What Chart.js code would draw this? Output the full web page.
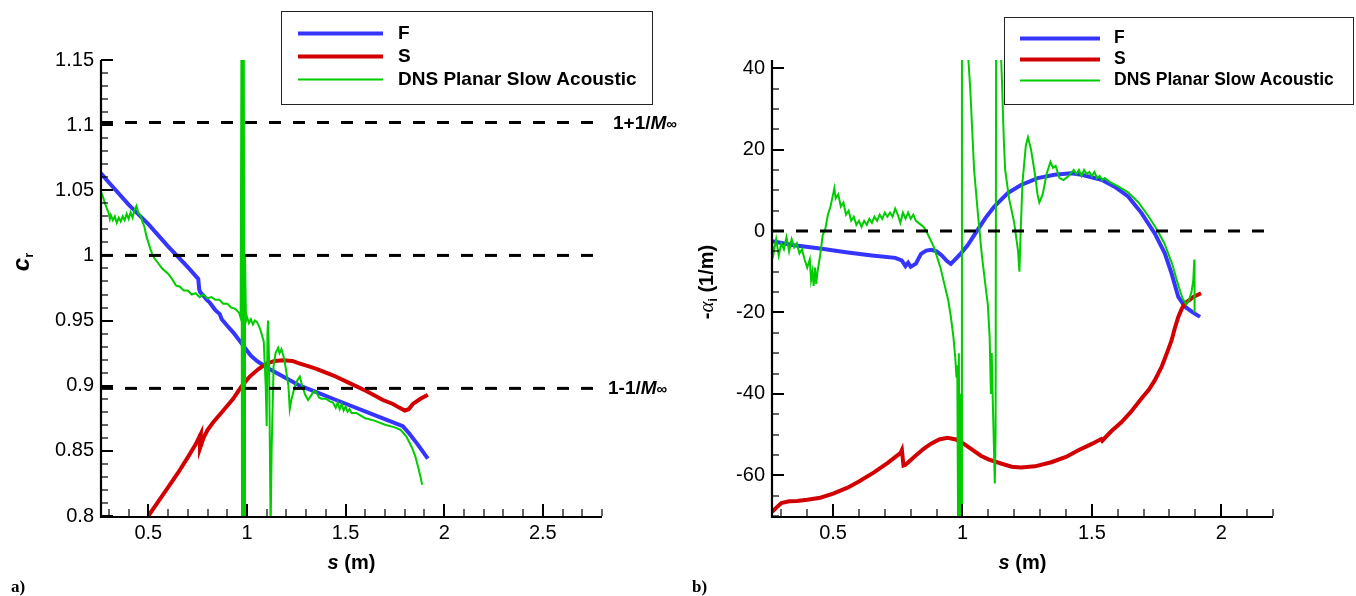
<!DOCTYPE html>
<html><head><meta charset="utf-8">
<script src="https://cdn.jsdelivr.net/npm/chart.js@4"></script>
<style>
html,body{margin:0;padding:0;background:#fff;}
#wrap{position:relative;width:1356px;height:596px;overflow:hidden;}
canvas{position:absolute;top:0;}
#c1{left:0;} #c2{left:680px;}
</style></head>
<body><div id="wrap"><canvas id="c1" width="700" height="596"></canvas><canvas id="c2" width="676" height="596"></canvas></div>
<script>
// ---------------- data ----------------
const M_INF = 9.8;
const crRefLevels = [1 + 1 / M_INF, 1, 1 - 1 / M_INF];
const aiRefLevels = [0];

// (a) phase speed c_r versus s
const crF = [[0.26,1.063],[0.3,1.056],[0.4,1.039],[0.5,1.024],[0.6,1.007],[0.7,0.991],[0.753,0.982],[0.758,0.974],[0.762,0.972],[0.78,0.969],[0.795,0.966],[0.81,0.964],[0.825,0.961],[0.84,0.958],[0.862,0.955],[0.872,0.951],[0.9,0.946],[0.93,0.941],[0.96,0.935],[0.99,0.929],[1.02,0.923],[1.05,0.919],[1.1,0.914],[1.183,0.907],[1.268,0.9],[1.352,0.895],[1.436,0.89],[1.52,0.885],[1.605,0.88],[1.689,0.875],[1.79,0.869],[1.825,0.863],[1.87,0.854],[1.917,0.844]];
const crS = [[0.5,0.8],[0.55,0.811],[0.6,0.822],[0.65,0.833],[0.7,0.845],[0.74,0.855],[0.766,0.863],[0.762,0.852],[0.78,0.86],[0.8,0.866],[0.829,0.872],[0.88,0.881],[0.93,0.89],[0.97,0.899],[1.014,0.907],[1.06,0.913],[1.099,0.917],[1.14,0.919],[1.183,0.9195],[1.23,0.919],[1.268,0.917],[1.31,0.915],[1.352,0.913],[1.436,0.908],[1.52,0.902],[1.605,0.896],[1.689,0.889],[1.74,0.886],[1.774,0.883],[1.8,0.881],[1.82,0.882],[1.841,0.886],[1.88,0.89],[1.917,0.893]];
const crDNS = [[0.262,1.048],[0.27,1.045],[0.28,1.04],[0.29,1.036],[0.3,1.032],[0.305,1.028],[0.31,1.031],[0.32,1.027],[0.33,1.03],[0.34,1.025],[0.35,1.029],[0.36,1.026],[0.37,1.03],[0.38,1.027],[0.39,1.032],[0.4,1.028],[0.41,1.033],[0.42,1.029],[0.43,1.035],[0.44,1.038],[0.45,1.032],[0.46,1.031],[0.47,1.026],[0.48,1.022],[0.49,1.015],[0.5,1.01],[0.51,1.005],[0.52,1.001],[0.53,0.998],[0.55,0.994],[0.57,0.99],[0.6,0.986],[0.62,0.982],[0.64,0.977],[0.66,0.976],[0.68,0.973],[0.7,0.973],[0.72,0.97],[0.74,0.971],[0.76,0.968],[0.78,0.97],[0.8,0.967],[0.82,0.968],[0.84,0.966],[0.86,0.966],[0.88,0.963],[0.9,0.963],[0.92,0.96],[0.94,0.959],[0.96,0.956],[0.968,0.952],[0.972,1.16],[0.975,0.79],[0.978,1.16],[0.981,0.79],[0.984,1.16],[0.987,0.79],[0.99,1.0],[0.995,0.95],[1.0,0.953],[1.01,0.948],[1.02,0.951],[1.03,0.947],[1.04,0.95],[1.05,0.949],[1.06,0.946],[1.07,0.942],[1.085,0.934],[1.095,0.9],[1.1,0.869],[1.104,0.94],[1.107,0.95],[1.112,0.92],[1.12,0.79],[1.125,0.85],[1.135,0.915],[1.145,0.925],[1.158,0.929],[1.165,0.925],[1.175,0.928],[1.19,0.92],[1.2,0.91],[1.21,0.9],[1.217,0.882],[1.225,0.889],[1.24,0.898],[1.255,0.904],[1.268,0.907],[1.28,0.9],[1.295,0.893],[1.31,0.889],[1.327,0.893],[1.34,0.896],[1.352,0.895],[1.365,0.891],[1.377,0.89],[1.4,0.89],[1.42,0.888],[1.436,0.887],[1.45,0.883],[1.46,0.887],[1.47,0.882],[1.48,0.886],[1.49,0.881],[1.5,0.884],[1.51,0.88],[1.52,0.882],[1.53,0.879],[1.555,0.879],[1.6,0.875],[1.65,0.873],[1.7,0.87],[1.75,0.868],[1.78,0.866],[1.808,0.861],[1.825,0.856],[1.841,0.851],[1.855,0.845],[1.867,0.838],[1.88,0.83],[1.888,0.824]];

// (b) growth rate -alpha_i versus s
const aiF = [[0.264,-2.5],[0.35,-3.5],[0.45,-4.3],[0.55,-5.2],[0.65,-6],[0.74,-6.6],[0.765,-7.2],[0.78,-8.6],[0.79,-7.8],[0.8,-8.8],[0.82,-8],[0.84,-5.6],[0.86,-4.8],[0.88,-4.6],[0.9,-5],[0.92,-6],[0.94,-7.4],[0.955,-8.1],[0.975,-6.8],[0.994,-5.5],[1.02,-3.5],[1.058,0.2],[1.09,3.3],[1.123,6],[1.175,9.3],[1.226,11.3],[1.291,13],[1.355,13.8],[1.42,14.2],[1.46,13.8],[1.537,12.6],[1.588,10.9],[1.64,8.5],[1.692,4.4],[1.743,-0.6],[1.782,-5.5],[1.808,-10.4],[1.834,-16.2],[1.86,-18.6],[1.89,-20],[1.918,-21.1]];
const aiS = [[0.264,-69],[0.28,-68],[0.3,-66.8],[0.33,-66.4],[0.361,-66.3],[0.4,-66],[0.451,-65.5],[0.5,-64.5],[0.554,-63.1],[0.6,-61.5],[0.658,-59.3],[0.71,-57],[0.761,-54.5],[0.766,-53.8],[0.772,-57.6],[0.78,-57.4],[0.813,-55.5],[0.85,-53.5],[0.877,-52.3],[0.91,-51.2],[0.942,-50.8],[0.975,-51.2],[1.006,-52.3],[1.04,-53.8],[1.071,-55.2],[1.1,-56.1],[1.149,-57.1],[1.19,-57.9],[1.226,-58.1],[1.28,-57.8],[1.343,-56.8],[1.4,-55.5],[1.446,-53.9],[1.5,-52.3],[1.536,-51.1],[1.54,-51.5],[1.575,-49.2],[1.614,-47],[1.65,-44.5],[1.691,-41.2],[1.72,-39],[1.743,-36.7],[1.77,-33.3],[1.79,-30],[1.808,-26.9],[1.82,-24],[1.834,-21.1],[1.848,-19],[1.86,-17.8],[1.892,-16.2],[1.922,-15.3]];
const aiDNS = [[0.264,-3],[0.27,-5.5],[0.28,-2],[0.29,-6],[0.3,-3],[0.31,-4.5],[0.32,-1.5],[0.33,-5],[0.34,-2],[0.35,-4],[0.36,-3],[0.37,-5.5],[0.38,-4.5],[0.39,-7],[0.4,-9],[0.41,-7],[0.415,-12],[0.42,-10],[0.425,-13.5],[0.43,-9],[0.435,-13],[0.44,-10],[0.45,-6],[0.46,-1],[0.47,0.5],[0.48,4],[0.49,6],[0.5,9],[0.505,10.5],[0.51,8],[0.52,9],[0.53,6],[0.54,7],[0.55,4],[0.56,5],[0.57,2.5],[0.58,3.5],[0.59,1.5],[0.6,2.5],[0.61,1],[0.62,2.5],[0.63,1.5],[0.64,3],[0.65,2],[0.66,3.5],[0.67,2.5],[0.68,4],[0.69,3],[0.7,4.5],[0.71,3.5],[0.72,4.5],[0.73,3.5],[0.74,5.5],[0.75,4],[0.76,2],[0.77,4.5],[0.78,3],[0.79,4.5],[0.8,3],[0.81,4],[0.82,2.5],[0.83,2],[0.84,1.5],[0.85,1],[0.86,0],[0.875,-2],[0.89,-4],[0.9,-6],[0.915,-9],[0.93,-13],[0.945,-17],[0.955,-21],[0.965,-26],[0.972,-31],[0.977,-36],[0.98,-33],[0.983,-72],[0.986,-30],[0.989,-72],[0.992,-40],[0.995,-72],[0.998,45],[1.02,45],[1.03,35],[1.045,15],[1.06,4],[1.075,-6],[1.09,-14],[1.098,-18],[1.105,-26],[1.11,-40],[1.113,-30],[1.118,-44],[1.122,-54],[1.125,-62],[1.128,-50],[1.13,45],[1.148,45],[1.152,38],[1.16,22],[1.165,15],[1.18,8],[1.2,2],[1.215,-5],[1.22,-10],[1.225,0],[1.232,12],[1.245,21],[1.253,23],[1.265,20],[1.28,14],[1.29,9],[1.297,7],[1.31,9],[1.325,14],[1.34,17],[1.35,15.5],[1.36,16],[1.375,13],[1.39,12.5],[1.41,13.5],[1.43,15],[1.44,14],[1.45,15],[1.46,13.5],[1.47,15],[1.48,14],[1.49,14.5],[1.5,13.5],[1.51,14.5],[1.52,13],[1.53,13.5],[1.54,12.5],[1.55,13],[1.57,12],[1.6,11],[1.64,9.5],[1.68,7],[1.72,3.5],[1.75,0.5],[1.78,-3],[1.81,-8],[1.83,-12.5],[1.85,-16.5],[1.865,-18],[1.875,-17],[1.885,-15],[1.892,-12],[1.896,-7],[1.897,-20]];

const seriesNames = ['F', 'S', 'DNS Planar Slow Acoustic'];
const xLimitsA = [0.26, 2.8], yLimitsA = [0.8, 1.15];
const xLimitsB = [0.264, 2.2], yLimitsB = [-70, 42];

// ---------------- styling / helpers ----------------
const SANS = '"Liberation Sans", Arial, Helvetica, sans-serif';
const SERIF = '"Liberation Serif", "Times New Roman", serif';
const BLUE = '#3535ff', RED = '#d20000', GREEN = '#00cc00';
const pts = arr => arr.map(p => ({x: p[0], y: p[1]}));

function rich(ctx, parts, x, y, align) {
  let w = 0;
  for (const p of parts) { ctx.font = p[1]; w += ctx.measureText(p[0]).width; }
  let cx = align === 'center' ? x - w / 2 : x;
  ctx.textAlign = 'left'; ctx.textBaseline = 'alphabetic'; ctx.fillStyle = '#000';
  for (const p of parts) { ctx.font = p[1]; ctx.fillText(p[0], cx, y + (p[2] || 0)); cx += ctx.measureText(p[0]).width; }
}

function drawAxesAndTicks(chart, t) {
  const ctx = chart.ctx, a = chart.chartArea, xs = chart.scales.x, ys = chart.scales.y;
  ctx.save();
  ctx.strokeStyle = '#000'; ctx.lineCap = 'butt';
  const isMult = (v, m) => Math.abs(v / m - Math.round(v / m)) < 1e-6;
  for (let i = Math.ceil(xs.min / t.xMinor - 1e-6); i * t.xMinor <= xs.max + 1e-6; i++) {
    const v = i * t.xMinor, maj = isMult(v, t.xMajor), p = Math.round(xs.getPixelForValue(v));
    ctx.lineWidth = maj ? 2 : 1.2;
    ctx.beginPath(); ctx.moveTo(p, a.bottom); ctx.lineTo(p, a.bottom - (maj ? 12 : 7)); ctx.stroke();
  }
  for (let i = Math.ceil(ys.min / t.yMinor - 1e-6); i * t.yMinor <= ys.max + 1e-6; i++) {
    const v = i * t.yMinor, maj = isMult(v, t.yMajor), p = Math.round(ys.getPixelForValue(v));
    ctx.lineWidth = maj ? 2 : 1.2;
    ctx.beginPath(); ctx.moveTo(a.left, p); ctx.lineTo(a.left + (maj ? 12 : 7), p); ctx.stroke();
  }
  ctx.lineWidth = 2.2;
  ctx.beginPath(); ctx.moveTo(a.left, a.top); ctx.lineTo(a.left, a.bottom + 1); ctx.lineTo(a.right, a.bottom + 1); ctx.stroke();
  ctx.restore();
}

function drawLegend(chart, L) {
  const ctx = chart.ctx;
  ctx.save();
  ctx.fillStyle = '#fff'; ctx.fillRect(L.x, L.y, L.w, L.h);
  ctx.strokeStyle = '#222'; ctx.lineWidth = 1; ctx.strokeRect(L.x + 0.5, L.y + 0.5, L.w, L.h);
  const items = chart.data.datasets.filter(d => d.inLegend);
  items.forEach((d, i) => {
    const yy = L.row0 + i * L.dy;
    ctx.strokeStyle = d.borderColor; ctx.lineWidth = d.borderWidth;
    ctx.beginPath(); ctx.moveTo(L.lx0, yy); ctx.lineTo(L.lx1, yy); ctx.stroke();
    ctx.fillStyle = '#000'; ctx.font = 'bold ' + L.fs + 'px ' + SANS;
    ctx.textAlign = 'left'; ctx.textBaseline = 'middle';
    ctx.fillText(d.label, L.tx, yy);
  });
  ctx.restore();
}

function makeDatasets(F, S, D, refs, xl) {
  const ds = [
    {label: seriesNames[0], data: pts(F), borderColor: BLUE, borderWidth: 4, order: 4, inLegend: true},
    {label: seriesNames[1], data: pts(S), borderColor: RED, borderWidth: 4, order: 3, inLegend: true},
    {label: seriesNames[2], data: pts(D), borderColor: GREEN, borderWidth: 2, order: 2, inLegend: true}
  ];
  refs.forEach(r => ds.push({label: 'ref', data: [{x: xl[0], y: r}, {x: xl[1], y: r}], borderColor: '#000', borderWidth: 3, borderDash: [12, 12], order: 1, inLegend: false}));
  ds.forEach(d => { d.pointRadius = 0; d.tension = 0; d.fill = false; d.clip = 0; d.borderCapStyle = 'butt'; d.borderJoinStyle = 'miter'; });
  return ds;
}

function baseOptions(xl, yl, yStep, yw, padR, fmtY) {
  return {
    responsive: false, animation: false, devicePixelRatio: 1, events: [],
    layout: {padding: {left: 0, top: 60, right: padR, bottom: 0}},
    plugins: {legend: {display: false}, tooltip: {enabled: false}},
    scales: {
      x: {type: 'linear', min: xl[0], max: xl[1],
          afterFit: s => { s.height = 80; },
          grid: {display: false, drawTicks: false}, border: {display: false},
          ticks: {stepSize: 0.5, includeBounds: false, autoSkip: false, maxRotation: 0, padding: 5, color: '#000',
                  font: {family: SANS, size: 20}, callback: v => String(Math.round(v * 100) / 100)}},
      y: {type: 'linear', min: yl[0], max: yl[1],
          afterFit: s => { s.width = yw; },
          grid: {display: false, drawTicks: false}, border: {display: false},
          ticks: {stepSize: yStep, includeBounds: false, autoSkip: false, padding: 7, color: '#000',
                  font: {family: SANS, size: 20}, callback: fmtY}}
    }
  };
}

// ---------------- chart (a) ----------------
new Chart(document.getElementById('c1'), {
  type: 'line',
  data: {datasets: makeDatasets(crF, crS, crDNS, crRefLevels, xLimitsA)},
  options: baseOptions(xLimitsA, yLimitsA, 0.05, 101, 98, v => String(Math.round(v * 100) / 100)),
  plugins: [{
    id: 'decorA',
    afterDatasetsDraw(chart) { drawAxesAndTicks(chart, {xMinor: 0.1, xMajor: 0.5, yMinor: 0.01, yMajor: 0.05}); },
    afterDraw(chart) {
      const ctx = chart.ctx, a = chart.chartArea, ys = chart.scales.y;
      drawLegend(chart, {x: 281, y: 11, w: 371, h: 93, row0: 33.5, dy: 23, lx0: 298, lx1: 383, tx: 398, fs: 19});
      const B = 'bold 19px ' + SANS, BI = 'italic bold 19px ' + SANS, SM = 'bold 15px ' + SANS;
      rich(ctx, [['1+1/', B], ['M', BI], ['\u221E', SM]], 613, ys.getPixelForValue(crRefLevels[0]) + 6.5, 'left');
      rich(ctx, [['1-1/', B], ['M', BI], ['\u221E', SM]], 608, ys.getPixelForValue(crRefLevels[2]) + 6, 'left');
      rich(ctx, [['s', 'italic bold 20px ' + SANS], [' (m)', 'bold 20px ' + SANS]], (a.left + a.right) / 2, 569, 'center');
      ctx.save(); ctx.translate(29, 262); ctx.rotate(-Math.PI / 2);
      rich(ctx, [['c', 'italic bold 24px ' + SANS], ['r', 'bold 13px ' + SANS, 4]], 0, 0, 'center');
      ctx.restore();
      rich(ctx, [['a)', 'bold 17px ' + SERIF]], 11, 592, 'left');
    }
  }]
});

// ---------------- chart (b) ----------------
new Chart(document.getElementById('c2'), {
  type: 'line',
  data: {datasets: makeDatasets(aiF, aiS, aiDNS, aiRefLevels, xLimitsB)},
  options: baseOptions(xLimitsB, yLimitsB, 20, 92, 83, v => String(v)),
  plugins: [{
    id: 'decorB',
    afterDatasetsDraw(chart) { drawAxesAndTicks(chart, {xMinor: 0.1, xMajor: 0.5, yMinor: 5, yMajor: 20}); },
    afterDraw(chart) {
      const ctx = chart.ctx, a = chart.chartArea;
      drawLegend(chart, {x: 324, y: 17, w: 349, h: 87, row0: 38.5, dy: 21, lx0: 340, lx1: 420, tx: 434, fs: 17.5});
      rich(ctx, [['s', 'italic bold 20px ' + SANS], [' (m)', 'bold 20px ' + SANS]], (a.left + a.right) / 2, 569, 'center');
      ctx.save(); ctx.translate(33, 282); ctx.rotate(-Math.PI / 2);
      rich(ctx, [['-', 'bold 20px ' + SANS], ['\u03B1', 'italic 21px ' + SERIF], ['i', 'bold 12px ' + SANS, 4], [' (1/m)', 'bold 20px ' + SANS]], 0, 0, 'center');
      ctx.restore();
      rich(ctx, [['b)', 'bold 17px ' + SERIF]], 12, 592, 'left');
    }
  }]
});
</script>
</body></html>
